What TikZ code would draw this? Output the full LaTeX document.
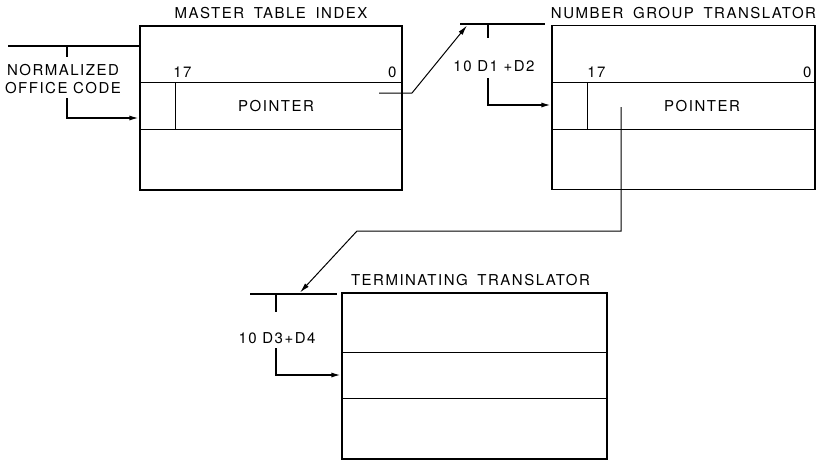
\documentclass[tikz,border=0pt]{standalone}
\usepackage{fontspec}
\setmainfont{TeX Gyre Heros}[LetterSpace=10]
\newfontfamily\ttlfont{TeX Gyre Heros}[LetterSpace=10,WordSpace=1.7]
\usetikzlibrary{positioning,arrows.meta}

\begin{document}
\begin{tikzpicture}[
  x=1pt, y=-1pt,
  >={Latex[length=10pt,width=5pt]},
  tbl/.style={draw, line width=1.2pt, minimum width=263pt, minimum height=164pt, inner sep=0pt},
  row/.style={line width=0.9pt},
  ttl/.style={font=\ttlfont\fontsize{15}{18}\selectfont, inner sep=0pt},
  txt/.style={font=\fontsize{15}{18}\selectfont, inner sep=0pt, align=center},
  bus/.style={line width=1.8pt},
  ptr/.style={line width=1pt}
]
\useasboundingbox (0,0) rectangle (822,461);

% Tables
\node[tbl, minimum width=262pt] (mti) at (271,108) {};
\node[ttl, above=6pt of mti.north] (mti-t) {MASTER TABLE INDEX};
\node[tbl] (ngt) at (683.5,107.5) {};
\node[ttl, above=6pt of ngt.north] (ngt-t) {NUMBER GROUP TRANSLATOR};
\node[tbl, minimum width=265pt, minimum height=166pt] (tt) at (474.5,376) {};
\node[ttl, above=6pt of tt.north, xshift=-4pt] (tt-t) {TERMINATING TRANSLATOR};

% Master table rows
\draw[row] ([yshift=-57pt]mti.north west) -- ([yshift=-57pt]mti.north east);
\draw[row] ([yshift=-104pt]mti.north west) -- ([yshift=-104pt]mti.north east);
\draw[row] ([xshift=36pt,yshift=-57pt]mti.north west) -- ([xshift=36pt,yshift=-104pt]mti.north west);
\node[txt, anchor=base] (mti-17) at ([xshift=43pt,yshift=-52pt]mti.north west) {17};
\node[txt, anchor=base east] (mti-0) at ([xshift=-6pt,yshift=-52pt]mti.north east) {0};
\node[txt] (mti-p) at (276,106) {POINTER};

% Number group rows
\draw[row] ([yshift=-58pt]ngt.north west) -- ([yshift=-58pt]ngt.north east);
\draw[row] ([yshift=-105pt]ngt.north west) -- ([yshift=-105pt]ngt.north east);
\draw[row] ([xshift=36pt,yshift=-58pt]ngt.north west) -- ([xshift=36pt,yshift=-105pt]ngt.north west);
\node[txt, anchor=base] (ngt-17) at ([xshift=45pt,yshift=-53pt]ngt.north west) {17};
\node[txt, anchor=base east] (ngt-0) at ([xshift=-4pt,yshift=-53pt]ngt.north east) {0};
\node[txt] (ngt-p) at (702,106) {POINTER};

% Terminating rows
\draw[row] ([yshift=-60pt]tt.north west) -- ([yshift=-60pt]tt.north east);
\draw[row] ([yshift=-106pt]tt.north west) -- ([yshift=-106pt]tt.north east);

% Office code input
\coordinate (oc-l) at (8,46);
\coordinate (oc-t) at (67,46);
\coordinate (oc-a) at (67,57);
\coordinate (oc-b) at (67,98);
\coordinate (oc-in) at (67,118);
\node[txt] (oc) at (63,79) {NORMALIZED\\OFFICE CODE};
\draw[bus] (oc-l) -- (oc-l -| mti.west);
\draw[bus] (oc-t) -- (oc-a);
\draw[bus,->] (oc-b) -- (oc-in) -- (oc-in -| mti.west);

% Master pointer to number group
\coordinate (mti-ps) at (379,93);
\coordinate (mti-pk) at (412,93);
\coordinate (ngt-hit) at (467,25.5);
\coordinate (ngt-bl) at (460,24);
\coordinate (ngt-br) at (545,24);
\coordinate (ngt-bt) at (488,24);
\coordinate (ngt-ba) at (488,38);
\coordinate (ngt-bb) at (488,78);
\coordinate (ngt-in) at (488,105);
\node[txt] (ngt-lbl) at (494,66.5) {10 D1 +D2};
\draw[ptr,->] (mti-ps) -- (mti-pk) -- (ngt-hit);
\draw[bus] (ngt-bl) -- (ngt-br);
\draw[bus] (ngt-bt) -- (ngt-ba);
\draw[bus,->] (ngt-bb) -- (ngt-in) -- (ngt-in -| ngt.west);

% Number group pointer to terminating
\coordinate (ngt-ps) at (621,107);
\coordinate (ngt-pk) at (621,231);
\coordinate (ngt-pj) at (357,231);
\coordinate (tt-hit) at (300,292.5);
\coordinate (tt-bl) at (250,294);
\coordinate (tt-br) at (337,294);
\coordinate (tt-bt) at (276,294);
\coordinate (tt-ba) at (276,312);
\coordinate (tt-bb) at (276,348);
\coordinate (tt-in) at (276,375);
\node[txt] (tt-lbl) at (277,338) {10 D3+D4};
\draw[ptr,->] (ngt-ps) -- (ngt-pk) -- (ngt-pj) -- (tt-hit);
\draw[bus] (tt-bl) -- (tt-br);
\draw[bus] (tt-bt) -- (tt-ba);
\draw[bus,->] (tt-bb) -- (tt-in) -- (tt-in -| tt.west);
\end{tikzpicture}
\end{document}
